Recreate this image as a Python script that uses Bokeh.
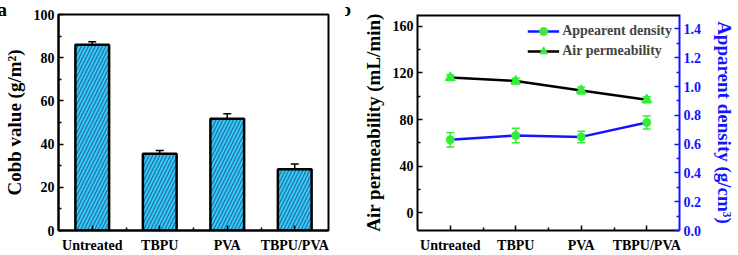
from bokeh.plotting import figure
from bokeh.models import (Range1d, LinearAxis, FixedTicker, Whisker, TeeHead, ColumnDataSource,
                          Legend, LegendItem, Title, Span)
from bokeh.layouts import row
from bokeh.embed import file_html
from bokeh.resources import INLINE

categories = ["Untreated", "TBPU", "PVA", "TBPU/PVA"]
cobb = [86.0, 35.5, 51.7, 28.3]
cobb_err = [1.4, 1.5, 2.3, 2.5]
air_perm = [116.0, 113.0, 105.0, 97.0]
air_err = [2.5, 2.5, 3.0, 2.5]
density = [0.63, 0.66, 0.65, 0.75]
density_err = [0.05, 0.05, 0.04, 0.045]

xs = [i + 1 for i in range(len(categories))]
overrides = {i + 1: c for i, c in enumerate(categories)}
FONT = "Liberation Serif"
GREEN = "#33ee33"
BLUE = "#1414ff"


def style_axis(ax, color="black"):
    ax.axis_line_width = 2
    ax.axis_line_color = color
    ax.major_tick_in = 5
    ax.major_tick_out = 0
    ax.minor_tick_in = 3
    ax.minor_tick_out = 0
    ax.major_tick_line_width = 1.5
    ax.minor_tick_line_width = 1.5
    ax.major_tick_line_color = color
    ax.minor_tick_line_color = color
    ax.major_label_text_font = FONT
    ax.major_label_text_font_style = "bold"
    ax.major_label_text_font_size = "14px"
    ax.major_label_text_color = color
    ax.axis_label_text_font = FONT
    ax.axis_label_text_font_style = "bold"
    ax.axis_label_text_font_size = "19px"
    ax.axis_label_text_color = color
    ax.major_label_standoff = 4
    ax.axis_label_standoff = 4


def panel_title(text, offset):
    return Title(text=text, align="left", vertical_align="middle", offset=offset, standoff=-12,
                 text_font=FONT, text_font_style="bold", text_font_size="19px",
                 text_baseline="middle", text_color="black")


# ---------------- panel a ----------------
pa = figure(width=345, height=255, output_backend="svg", toolbar_location=None,
            x_range=Range1d(0.5, 4.5), y_range=Range1d(0, 100),
            min_border_left=58, min_border_right=17, min_border_top=14, min_border_bottom=24)
pa.title = panel_title("a", -61)
pa.grid.visible = False
pa.outline_line_color = "black"
pa.outline_line_width = 2

src_a = ColumnDataSource(dict(x=xs, top=cobb,
                              lo=[v - e for v, e in zip(cobb, cobb_err)],
                              hi=[v + e for v, e in zip(cobb, cobb_err)]))
pa.vbar(x="x", top="top", width=0.5, bottom=0, source=src_a, fill_color="#33c8f5",
        line_color="black", line_width=2.5, hatch_pattern="/", hatch_color="#203a70",
        hatch_scale=7, hatch_weight=0.8)
pa.add_layout(Whisker(base="x", lower="lo", upper="hi", source=src_a, line_color="black",
                      line_width=1.5,
                      upper_head=TeeHead(size=8, line_color="black", line_width=1.5),
                      lower_head=TeeHead(size=8, line_color="black", line_width=1.5)))

style_axis(pa.xaxis[0])
pa.xaxis[0].ticker = FixedTicker(ticks=xs, minor_ticks=[1.5, 2.5, 3.5])
pa.xaxis[0].major_label_overrides = overrides
pa.xaxis[0].major_label_standoff = 7
style_axis(pa.yaxis[0])
pa.yaxis[0].ticker = FixedTicker(ticks=[0, 20, 40, 60, 80, 100],
                                 minor_ticks=[10, 30, 50, 70, 90])
pa.yaxis[0].axis_label = "Cobb value (g/m²)"
pa.yaxis[0].axis_label_standoff = 6

# ---------------- panel b ----------------
pb = figure(width=393, height=255, output_backend="svg", toolbar_location=None,
            x_range=Range1d(0.5, 4.5), y_range=Range1d(-15, 170),
            min_border_left=72, min_border_right=53, min_border_top=14, min_border_bottom=24)
pb.title = panel_title("b", -77)
pb.grid.visible = False
pb.outline_line_color = None
pb.extra_y_ranges = {"dens": Range1d(0, 1.5)}

src_air = ColumnDataSource(dict(x=xs, y=air_perm,
                                lo=[v - e for v, e in zip(air_perm, air_err)],
                                hi=[v + e for v, e in zip(air_perm, air_err)]))
src_den = ColumnDataSource(dict(x=xs, y=density,
                                lo=[v - e for v, e in zip(density, density_err)],
                                hi=[v + e for v, e in zip(density, density_err)]))

l_air = pb.line("x", "y", source=src_air, line_color="black", line_width=2.5)
l_den = pb.line("x", "y", source=src_den, line_color=BLUE, line_width=2.5, y_range_name="dens")
pb.add_layout(Whisker(base="x", lower="lo", upper="hi", source=src_air, line_color=GREEN,
                      line_width=1.5,
                      upper_head=TeeHead(size=8, line_color=GREEN, line_width=1.5),
                      lower_head=TeeHead(size=8, line_color=GREEN, line_width=1.5)))
pb.add_layout(Whisker(base="x", lower="lo", upper="hi", source=src_den, line_color=GREEN,
                      line_width=1.5, y_range_name="dens",
                      upper_head=TeeHead(size=8, line_color=GREEN, line_width=1.5),
                      lower_head=TeeHead(size=8, line_color=GREEN, line_width=1.5)))
s_air = pb.scatter("x", "y", source=src_air, marker="triangle", size=10,
                   fill_color=GREEN, line_color=GREEN)
s_den = pb.scatter("x", "y", source=src_den, marker="circle", size=8,
                   fill_color=GREEN, line_color=GREEN, y_range_name="dens")

style_axis(pb.xaxis[0])
pb.xaxis[0].ticker = FixedTicker(ticks=xs, minor_ticks=[1.5, 2.5, 3.5])
pb.xaxis[0].major_label_overrides = overrides
pb.xaxis[0].major_label_standoff = 7
style_axis(pb.yaxis[0])
pb.yaxis[0].ticker = FixedTicker(ticks=[0, 40, 80, 120, 160], minor_ticks=[-20, 20, 60, 100, 140])
pb.yaxis[0].axis_label = "Air permeability (mL/min)"
pb.yaxis[0].axis_label_standoff = 6

ax_r = LinearAxis(y_range_name="dens", axis_label="Apparent density (g/cm³)")
style_axis(ax_r, BLUE)
ax_r.ticker = FixedTicker(ticks=[0.0, 0.2, 0.4, 0.6, 0.8, 1.0, 1.2, 1.4],
                          minor_ticks=[0.1, 0.3, 0.5, 0.7, 0.9, 1.1, 1.3])
ax_r.major_label_overrides = {0.0: "0.0", 1.0: "1.0"}
ax_r.axis_label_standoff = 10
pb.add_layout(ax_r, "right")

# top frame edge of panel b (black), drawn at the top of the left range
pb.add_layout(Span(location=pb.y_range.end, dimension="width", line_color="black", line_width=4))

legend = Legend(items=[LegendItem(label="Appearent density", renderers=[l_den, s_den]),
                       LegendItem(label="Air permeability", renderers=[l_air, s_air])],
                location="top_right", border_line_color=None, background_fill_alpha=0,
                label_text_font=FONT, label_text_font_style="bold", label_text_font_size="14px",
                glyph_width=32, label_standoff=3, spacing=0, padding=4, margin=7)
pb.add_layout(legend)

layout = row(pa, pb)
open("out.html", "w").write(file_html(layout, INLINE))
